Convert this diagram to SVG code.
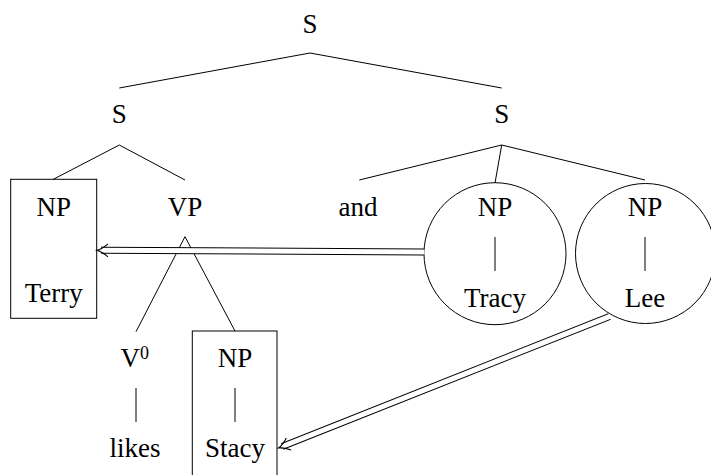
<svg xmlns="http://www.w3.org/2000/svg" width="711" height="475" viewBox="0 0 711 475" font-family="Liberation Serif">
<rect width="711" height="475" fill="#fff"/>
<g id="edges" stroke="#000" stroke-width="1" fill="none">
<line x1="310" y1="53" x2="119.3" y2="88"/>
<line x1="310" y1="53" x2="501.7" y2="88"/>
<line x1="119.3" y1="145" x2="53.3" y2="179.3"/>
<line x1="119.3" y1="145" x2="185" y2="180"/>
<line x1="185" y1="236.7" x2="136" y2="331.7"/>
<line x1="185" y1="236.7" x2="235" y2="331"/>
<line x1="136" y1="388" x2="136" y2="422"/>
<line x1="235" y1="388" x2="235" y2="422"/>
<line x1="501.7" y1="145" x2="359.3" y2="180"/>
<line x1="501.7" y1="145" x2="495" y2="183"/>
<line x1="501.7" y1="145" x2="645" y2="180"/>
<line x1="495" y1="237" x2="495" y2="271"/>
<line x1="645" y1="237" x2="645" y2="271"/>
</g>
<g id="n-S-top"><text style="font-family:'Liberation Serif'" font-size="27" text-anchor="middle" x="310" y="32.5">S</text></g>
<g id="n-S-left"><text style="font-family:'Liberation Serif'" font-size="27" text-anchor="middle" x="119.3" y="123">S</text></g>
<g id="n-S-right"><text style="font-family:'Liberation Serif'" font-size="27" text-anchor="middle" x="501.7" y="123">S</text></g>
<g id="n-NP-Terry">
<rect x="10.7" y="179.3" width="86" height="139" fill="none" stroke="#000" stroke-width="1"/>
<text style="font-family:'Liberation Serif'" font-size="27" text-anchor="middle" x="53.7" y="215.5">NP</text>
<text style="font-family:'Liberation Serif'" font-size="27" text-anchor="middle" x="53.7" y="301.7">Terry</text>
</g>
<g id="n-VP"><text style="font-family:'Liberation Serif'" font-size="27" text-anchor="middle" x="185" y="215.5">VP</text></g>
<g id="n-and"><text style="font-family:'Liberation Serif'" font-size="27" text-anchor="middle" x="358" y="215.5">and</text></g>
<g id="n-NP-Tracy">
<circle cx="495" cy="253.7" r="71" fill="none" stroke="#000" stroke-width="1"/>
<text style="font-family:'Liberation Serif'" font-size="27" text-anchor="middle" x="495" y="215.5">NP</text>
<text style="font-family:'Liberation Serif'" font-size="27" text-anchor="middle" x="495" y="306.5">Tracy</text>
</g>
<g id="n-NP-Lee">
<circle cx="645.5" cy="253.5" r="70" fill="none" stroke="#000" stroke-width="1"/>
<text style="font-family:'Liberation Serif'" font-size="27" text-anchor="middle" x="645" y="215.5">NP</text>
<text style="font-family:'Liberation Serif'" font-size="27" text-anchor="middle" x="645" y="307">Lee</text>
</g>
<g id="n-V0"><text style="font-family:'Liberation Serif'" font-size="27" x="120.5" y="366.7">V<tspan font-size="18" dy="-8">0</tspan></text></g>
<g id="n-likes"><text style="font-family:'Liberation Serif'" font-size="27" text-anchor="middle" x="135" y="457">likes</text></g>
<g id="n-NP-Stacy">
<rect x="192.3" y="331" width="84.7" height="160" fill="none" stroke="#000" stroke-width="1"/>
<text style="font-family:'Liberation Serif'" font-size="27" text-anchor="middle" x="235" y="367">NP</text>
<text style="font-family:'Liberation Serif'" font-size="27" text-anchor="middle" x="235" y="457">Stacy</text>
</g>
<g id="arrows" fill="none">
<line stroke="#000" stroke-width="7" x1="424" y1="252" x2="101" y2="250.3"/>
<line stroke="#fff" stroke-width="5" x1="424.5" y1="252" x2="101" y2="250.3"/>
<path stroke="#000" stroke-width="1.1" transform="translate(97 250.3) rotate(180.3)" d="M -11,-6.5 C -7,-3 -3,-0.8 0,0 C -3,0.8 -7,3 -11,6.5"/>
<line stroke="#000" stroke-width="7" x1="609.5" y1="316.5" x2="282.2" y2="446.5"/>
<line stroke="#fff" stroke-width="5" x1="610.5" y1="316.1" x2="282.2" y2="446.5"/>
<path stroke="#000" stroke-width="1.1" transform="translate(278.5 448) rotate(158.33)" d="M -11,-6.5 C -7,-3 -3,-0.8 0,0 C -3,0.8 -7,3 -11,6.5"/>
</g>
</svg>
